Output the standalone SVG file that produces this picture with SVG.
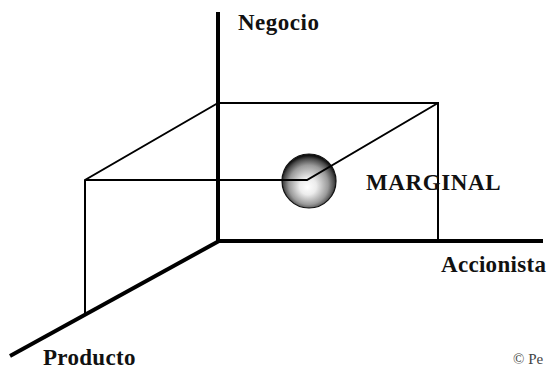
<svg xmlns="http://www.w3.org/2000/svg" width="548" height="370" viewBox="0 0 548 370">
<style>
.axis{stroke:#000;stroke-width:4;fill:none;stroke-linecap:butt}
.edge{stroke:#000;stroke-width:2;fill:none}
.lbl{font-family:"Liberation Serif","Times New Roman",serif;font-weight:bold;font-size:23px;fill:#111}
.note{font-family:"Liberation Serif","Times New Roman",serif;font-size:15px;fill:#444}
</style>
<defs>
<radialGradient id="sph" cx="0.5" cy="0.55" r="0.52" fx="0.47" fy="0.62">
<stop offset="0" stop-color="#ffffff"/>
<stop offset="0.3" stop-color="#ececec"/>
<stop offset="0.7" stop-color="#9a9a9a"/>
<stop offset="0.9" stop-color="#4a4a4a"/>
<stop offset="1" stop-color="#111"/>
</radialGradient>
</defs>
<rect width="548" height="370" fill="#fff"/>
<g id="sphere">
<circle cx="309" cy="181" r="27" fill="url(#sph)" stroke="#111" stroke-width="1.2"/>
</g>
<g id="connectors">
<line class="axis" x1="218" y1="12" x2="218" y2="243"/>
<line class="axis" x1="216" y1="241" x2="543" y2="241"/>
<line class="axis" x1="219" y1="241" x2="10" y2="356"/>
<polyline class="edge" points="218,103 438,103 438,241"/>
<polyline class="edge" points="85,313 85,180 218,103"/>
<polyline class="edge" points="85,180 307,180 438,103"/>
</g>
<g id="negocio"><text class="lbl" x="238" y="30" letter-spacing="0.5">Negocio</text></g>
<g id="marginal"><text class="lbl" x="366" y="190" letter-spacing="0.6">MARGINAL</text></g>
<g id="accionista"><text class="lbl" x="441" y="272" letter-spacing="0.3">Accionista</text></g>
<g id="producto"><text class="lbl" x="43" y="365" letter-spacing="0.3">Producto</text></g>
<g id="copyright"><text class="note" x="513" y="364">© Pe</text></g>
</svg>
